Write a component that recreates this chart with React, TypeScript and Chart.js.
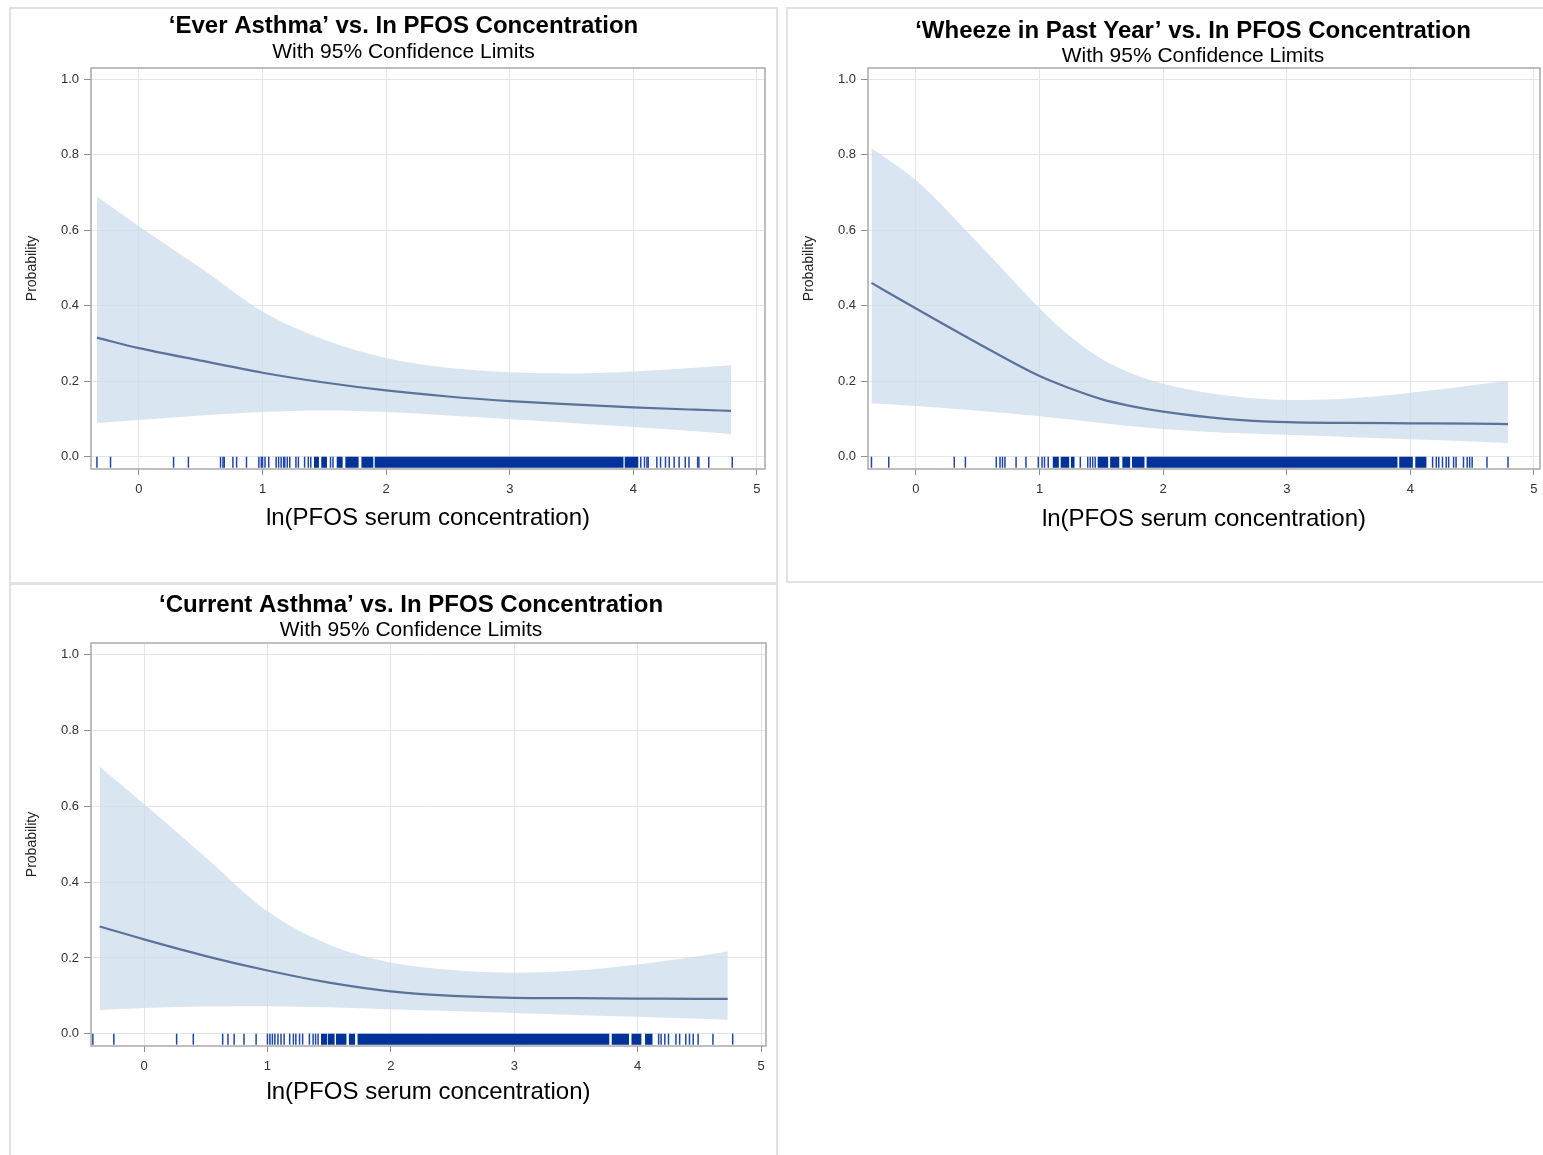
import React, { useEffect, useRef } from "react";
import { Chart, registerables } from "chart.js";

Chart.register(...registerables);

const FONT = "'Liberation Sans', Arial, Helvetica, sans-serif";

// ---------- shared axis values ----------
const X_TICKS = [0, 1, 2, 3, 4, 5];
const Y_TICKS = [0, 0.2, 0.4, 0.6, 0.8, 1.0];
const RUG_Y = -0.014;

// ---------- Panel 1: Ever Asthma ----------
const EVER_X = [-0.34, 0, 0.5, 1, 1.5, 2, 2.5, 3, 3.5, 4, 4.5, 4.79];
const EVER_EST = [0.316, 0.288, 0.255, 0.223, 0.197, 0.176, 0.16, 0.148, 0.139, 0.131, 0.125, 0.122];
const EVER_UPPER = [0.69, 0.611, 0.5, 0.385, 0.31, 0.262, 0.236, 0.224, 0.221, 0.226, 0.236, 0.243];
const EVER_LOWER = [0.09, 0.098, 0.11, 0.119, 0.123, 0.119, 0.11, 0.1, 0.09, 0.079, 0.068, 0.061];
const EVER_RUG_TICKS = [
  -0.34, -0.23, 0.28, 0.4, 0.66, 0.68, 0.69, 0.76, 0.79, 0.87, 0.97, 0.99, 1.0, 1.02, 1.05,
  1.11, 1.13, 1.15, 1.17, 1.18, 1.2, 1.22, 1.27, 1.29, 1.34, 1.37, 1.39, 1.55, 1.57,
  4.06, 4.09, 4.11, 4.12, 4.19, 4.22, 4.26, 4.29, 4.33, 4.37, 4.42, 4.45, 4.52, 4.53, 4.61, 4.8,
];
const EVER_RUG_BLOCKS = [
  [1.416, 1.456], [1.475, 1.521], [1.6, 1.648], [1.67, 1.777], [1.8, 1.896], [1.907, 3.92], [3.93, 4.04],
];

// ---------- Panel 2: Wheeze in Past Year ----------
const WHEEZE_X = [-0.36, 0, 0.5, 1, 1.25, 1.5, 1.75, 2, 2.5, 3, 3.5, 4, 4.5, 4.79];
const WHEEZE_EST = [0.461, 0.393, 0.301, 0.214, 0.181, 0.153, 0.134, 0.12, 0.101, 0.092, 0.09, 0.089, 0.088, 0.087];
const WHEEZE_UPPER = [0.817, 0.733, 0.567, 0.394, 0.318, 0.26, 0.22, 0.194, 0.163, 0.151, 0.155, 0.17, 0.19, 0.202];
const WHEEZE_LOWER = [0.142, 0.135, 0.122, 0.108, 0.099, 0.09, 0.081, 0.074, 0.064, 0.059, 0.053, 0.047, 0.041, 0.037];
const WHEEZE_RUG_TICKS = [
  -0.36, -0.22, 0.31, 0.4, 0.65, 0.68, 0.7, 0.72, 0.81, 0.89, 0.99, 1.02, 1.04, 1.07, 1.33,
  1.39, 1.41, 1.43, 1.45, 4.18, 4.21, 4.23, 4.26, 4.29, 4.31, 4.35, 4.37, 4.43, 4.46, 4.48, 4.5, 4.62, 4.79,
];
const WHEEZE_RUG_BLOCKS = [
  [1.107, 1.156], [1.171, 1.24], [1.254, 1.283], [1.47, 1.555], [1.571, 1.645], [1.67, 1.733],
  [1.748, 1.849], [1.866, 3.896], [3.91, 4.02], [4.04, 4.13],
];

// ---------- Panel 3: Current Asthma ----------
const CURRENT_X = [-0.36, 0, 0.5, 1, 1.5, 2, 2.5, 3, 3.5, 4, 4.5, 4.73];
const CURRENT_EST = [0.283, 0.249, 0.205, 0.167, 0.135, 0.112, 0.1, 0.095, 0.094, 0.093, 0.092, 0.092];
const CURRENT_UPPER = [0.704, 0.606, 0.465, 0.323, 0.235, 0.188, 0.168, 0.161, 0.167, 0.183, 0.205, 0.217];
const CURRENT_LOWER = [0.063, 0.068, 0.072, 0.073, 0.07, 0.065, 0.06, 0.055, 0.05, 0.045, 0.04, 0.037];
const CURRENT_RUG_TICKS = [
  -0.415, -0.245, 0.264, 0.399, 0.637, 0.68, 0.73, 0.81, 0.908, 1.0, 1.02, 1.04, 1.06, 1.085,
  1.11, 1.135, 1.18, 1.21, 1.23, 1.26, 1.285, 1.34, 1.37, 1.39, 1.41, 4.17, 4.19, 4.22, 4.25,
  4.31, 4.34, 4.39, 4.42, 4.45, 4.49, 4.61, 4.77,
];
const CURRENT_RUG_BLOCKS = [
  [1.434, 1.484], [1.49, 1.544], [1.555, 1.64], [1.66, 1.71], [1.73, 3.77], [3.79, 3.93], [3.95, 4.03], [4.06, 4.12],
];

const SUBTITLE = "With 95% Confidence Limits";
const X_TITLE = "ln(PFOS serum concentration)";
const Y_TITLE = "Probability";

type PanelCfg = {
  title: string;
  xs: number[];
  est: number[];
  upper: number[];
  lower: number[];
  rugTicks: number[];
  rugBlocks: number[][];
  xMin: number;
  xMax: number;
  box: { left: number; top: number; width: number; height: number };
  canvas: { left: number; top: number; width: number; height: number };
  rightSpace: number;
  padBottom: number;
  titleTop: number;
  subTop: number;
  subBottom: number;
  xTitleBottom: number;
};

const PANELS: PanelCfg[] = [
  {
    title: "\u2018Ever Asthma\u2019 vs. In PFOS Concentration",
    xs: EVER_X, est: EVER_EST, upper: EVER_UPPER, lower: EVER_LOWER,
    rugTicks: EVER_RUG_TICKS, rugBlocks: EVER_RUG_BLOCKS,
    xMin: -0.388, xMax: 5.065,
    box: { left: 9, top: 7, width: 769, height: 577 },
    canvas: { left: 11, top: 9, width: 785, height: 573 },
    rightSpace: 31, padBottom: 43, titleTop: 5, subTop: 2, subBottom: 4, xTitleBottom: 6.2,
  },
  {
    title: "\u2018Wheeze in Past Year\u2019 vs. In PFOS Concentration",
    xs: WHEEZE_X, est: WHEEZE_EST, upper: WHEEZE_UPPER, lower: WHEEZE_LOWER,
    rugTicks: WHEEZE_RUG_TICKS, rugBlocks: WHEEZE_RUG_BLOCKS,
    xMin: -0.388, xMax: 5.049,
    box: { left: 786, top: 7, width: 760, height: 576 },
    canvas: { left: 788, top: 9, width: 810, height: 572 },
    rightSpace: 58, padBottom: 42, titleTop: 10, subTop: 1, subBottom: 0, xTitleBottom: 5.2,
  },
  {
    title: "\u2018Current Asthma\u2019 vs. In PFOS Concentration",
    xs: CURRENT_X, est: CURRENT_EST, upper: CURRENT_UPPER, lower: CURRENT_LOWER,
    rugTicks: CURRENT_RUG_TICKS, rugBlocks: CURRENT_RUG_BLOCKS,
    xMin: -0.43, xMax: 5.04,
    box: { left: 9, top: 583, width: 769, height: 580 },
    canvas: { left: 11, top: 585, width: 800, height: 573 },
    rightSpace: 45, padBottom: 42, titleTop: 8, subTop: 1, subBottom: 1, xTitleBottom: 9.2,
  },
];

const framePlugin = {
  id: "plotFrame",
  afterDatasetsDraw(chart: any) {
    const { ctx, chartArea } = chart;
    const { left, top, right, bottom } = chartArea;
    ctx.save();
    ctx.strokeStyle = "#a9a9a9";
    ctx.lineWidth = 1.5;
    ctx.strokeRect(left, top, right - left, bottom - top);
    ctx.restore();
  },
};

function Panel({ cfg }: { cfg: PanelCfg }) {
  const ref = useRef<HTMLCanvasElement | null>(null);

  useEffect(() => {
    if (!ref.current) return;
    const pts = (ys: number[]) => cfg.xs.map((x, i) => ({ x, y: ys[i] }));
    const blockData: any[] = [];
    cfg.rugBlocks.forEach(([a, b]) => {
      blockData.push({ x: a, y: RUG_Y }, { x: b, y: RUG_Y }, { x: b, y: null });
    });

    const chart = new Chart(ref.current, {
      type: "line",
      data: {
        datasets: [
          {
            label: "Upper",
            data: pts(cfg.upper),
            fill: "+1",
            backgroundColor: "rgba(205,220,238,0.74)",
            borderWidth: 0,
            pointRadius: 0,
            cubicInterpolationMode: "monotone",
            order: 5,
          },
          {
            label: "Lower",
            data: pts(cfg.lower),
            fill: false,
            borderWidth: 0,
            borderColor: "rgba(0,0,0,0)",
            pointRadius: 0,
            cubicInterpolationMode: "monotone",
            order: 4,
          },
          {
            label: "Rug blocks",
            data: blockData,
            borderColor: "#003399",
            borderWidth: 11,
            borderCapStyle: "butt",
            pointRadius: 0,
            spanGaps: false,
            fill: false,
            order: 2,
          },
          {
            label: "Rug",
            data: cfg.rugTicks.map((x) => ({ x, y: RUG_Y })),
            showLine: false,
            pointStyle: "line",
            pointRotation: 90,
            pointRadius: 5.5,
            pointBorderWidth: 1.5,
            pointBorderColor: "#1f45a8",
            pointBackgroundColor: "#1f45a8",
            fill: false,
            order: 1,
          },
          {
            label: "Predicted",
            data: pts(cfg.est),
            borderColor: "#5d729b",
            borderWidth: 2.2,
            pointRadius: 0,
            fill: false,
            cubicInterpolationMode: "monotone",
            order: 0,
          },
        ] as any,
      },
      options: {
        animation: false,
        responsive: false,
        events: [],
        layout: { padding: { left: 0, right: 0, top: 0, bottom: cfg.padBottom } },
        plugins: {
          legend: { display: false },
          tooltip: { enabled: false },
          title: {
            display: true,
            text: cfg.title,
            color: "#000",
            font: { family: FONT, size: 24, weight: "bold", lineHeight: "24px" },
            padding: { top: cfg.titleTop, bottom: 0 },
          },
          subtitle: {
            display: true,
            text: SUBTITLE,
            color: "#000",
            font: { family: FONT, size: 21, weight: "normal", lineHeight: "24px" },
            padding: { top: cfg.subTop, bottom: cfg.subBottom },
          },
        },
        scales: {
          x: {
            type: "linear",
            min: cfg.xMin,
            max: cfg.xMax,
            afterBuildTicks: (axis: any) => {
              axis.ticks = X_TICKS.map((value) => ({ value }));
            },
            afterFit: (axis: any) => {
              axis.height = 70;
            },
            grid: { color: "#e5e5e5", tickColor: "#8f8f8f", tickLength: 6, lineWidth: 1 },
            border: { display: false },
            ticks: {
              color: "#333",
              font: { family: FONT, size: 13 },
              padding: 7,
              maxRotation: 0,
              autoSkip: false,
              callback: (v: any) => String(Math.round(Number(v))),
            },
            title: {
              display: true,
              text: X_TITLE,
              color: "#000",
              font: { family: FONT, size: 24, lineHeight: 1.2 },
              padding: { top: 0, bottom: cfg.xTitleBottom },
            },
          },
          y: {
            type: "linear",
            min: -0.032,
            max: 1.03,
            afterBuildTicks: (axis: any) => {
              axis.ticks = Y_TICKS.map((value) => ({ value }));
            },
            afterFit: (axis: any) => {
              axis.width = 80;
            },
            grid: { color: "#e5e5e5", tickColor: "#8f8f8f", tickLength: 7, lineWidth: 1 },
            border: { display: false },
            ticks: {
              color: "#333",
              font: { family: FONT, size: 13 },
              padding: 5,
              autoSkip: false,
              callback: (v: any) => Number(v).toFixed(1),
            },
            title: {
              display: true,
              text: Y_TITLE,
              color: "#222",
              font: { family: FONT, size: 14, lineHeight: 1.2 },
              padding: { top: 12.6, bottom: 0 },
            },
          },
          yRight: {
            type: "linear",
            position: "right",
            display: true,
            min: 0,
            max: 1,
            grid: { display: false, drawOnChartArea: false, drawTicks: false },
            border: { display: false },
            ticks: { display: false },
            title: { display: false },
            afterFit: (axis: any) => {
              axis.width = cfg.rightSpace;
            },
          },
        },
      } as any,
      plugins: [framePlugin],
    });
    return () => chart.destroy();
  }, [cfg]);

  return (
    <>
      <div
        style={{
          position: "absolute",
          left: cfg.box.left,
          top: cfg.box.top,
          width: cfg.box.width,
          height: cfg.box.height,
          border: "2px solid #e2e2e2",
          boxSizing: "border-box",
        }}
      />
      <canvas
        ref={ref}
        width={cfg.canvas.width}
        height={cfg.canvas.height}
        style={{
          position: "absolute",
          left: cfg.canvas.left,
          top: cfg.canvas.top,
          width: cfg.canvas.width,
          height: cfg.canvas.height,
        }}
      />
    </>
  );
}

export default function App() {
  return (
    <div
      style={{
        position: "absolute",
        left: 0,
        top: 0,
        width: 1543,
        height: 1155,
        overflow: "hidden",
        background: "#fff",
      }}
    >
      {PANELS.map((p, i) => (
        <Panel key={i} cfg={p} />
      ))}
    </div>
  );
}
